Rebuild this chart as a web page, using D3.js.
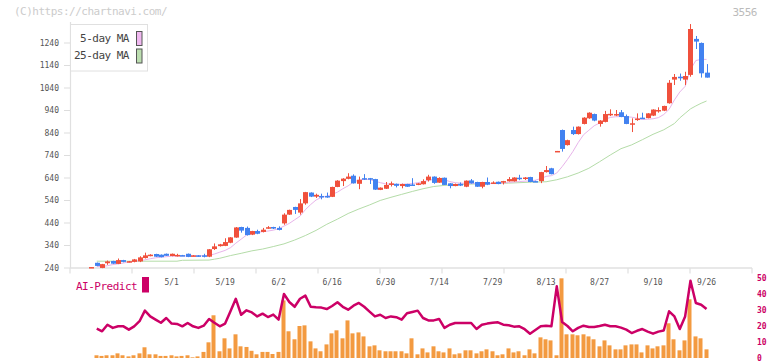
<!DOCTYPE html>
<html>
<head>
<meta charset="utf-8">
<script src="https://cdn.jsdelivr.net/npm/d3@7"></script>
<style>
  html, body { margin: 0; padding: 0; background: #fff; }
  text { font-family: "DejaVu Sans Mono", "Liberation Mono", monospace; }
</style>
</head>
<body>
<svg id="chart"></svg>
<script>
// trading days shown on the chart
const dates = ["4/9","4/10","4/11","4/14","4/15","4/16","4/17","4/18","4/21","4/22","4/23","4/24","4/25","4/28","4/30",
  "5/1","5/2","5/7","5/8","5/9","5/12","5/13","5/14","5/15","5/16","5/19","5/20","5/21","5/22","5/23","5/26","5/27","5/28","5/29","5/30",
  "6/2","6/3","6/4","6/5","6/6","6/9","6/10","6/11","6/12","6/13","6/16","6/17","6/18","6/19","6/20","6/23","6/24","6/25","6/26","6/27","6/30",
  "7/1","7/2","7/3","7/4","7/7","7/8","7/9","7/10","7/11","7/14","7/15","7/16","7/17","7/18","7/22","7/23","7/24","7/25","7/28","7/29","7/30","7/31",
  "8/1","8/4","8/5","8/6","8/7","8/8","8/12","8/13","8/14","8/15","8/18","8/19","8/20","8/21","8/22","8/25","8/26","8/27","8/28","8/29",
  "9/1","9/2","9/3","9/4","9/5","9/8","9/9","9/10","9/11","9/12","9/16","9/17","9/18","9/19","9/22","9/24","9/25","9/26"];

const labelDates = ["5/1","5/19","6/2","6/16","6/30","7/14","7/29","8/13","8/27","9/10","9/26"];
const priceTicks = [240,340,440,540,640,740,840,940,1040,1140,1240];
const subTicks = [0,10,20,30,40,50];

const opens = [240,261,238,259,269,256,273,265,265,267, 282,292,300,297,301,291,294,295,301,291,
  294,294,288,322,335,336,350,373,420,416, 386,402,398,417,420,416,436,475,509,484,
  525,573,555,558,558,554,598,624,634,648, 612,637,637,633,585,590,607,612,602,611,
  609,607,610,628,644,617,639,614,602,612, 599,627,620,599,620,617,621,623,623,623,
  639,638,642,624,624,664,681,755,851,784, 851,833,878,903,922,878,887,920,920,930,
  913,880,900,906,904,915,936,937,970,1075, 1088,1075,1096,1256,1238,1106];
const highs = [242,262,256,271,270,280,274,269,278,290, 306,299,301,298,302,302,301,296,302,295,
  295,301,322,347,345,370,375,420,421,422, 403,408,416,424,421,423,481,497,510,544,
  576,574,568,568,573,599,628,637,659,654, 644,655,638,634,596,620,622,613,613,612,
  637,615,632,652,645,641,640,615,613,618, 627,633,621,621,640,623,622,625,642,641,
  652,642,643,626,665,691,683,758,853,808, 866,867,908,930,924,895,936,943,940,940,
  920,903,925,928,926,943,952,959,1073,1100, 1102,1110,1322,1269,1240,1144];
const lows = [239,246,237,252,256,255,263,263,263,264, 280,290,287,285,291,290,289,291,286,290,
  287,285,286,318,333,335,348,372,395,382, 384,388,396,412,411,405,430,474,478,475,
  519,553,549,543,550,553,597,602,632,613, 588,629,611,585,584,589,600,596,592,598,
  604,606,609,622,612,616,606,592,601,602, 597,613,598,592,606,612,610,609,622,622,
  628,629,619,620,615,662,654,754,755,782, 829,831,876,901,890,866,885,913,913,908,
  877,842,892,900,903,913,928,935,968,1051, 1070,1051,1088,1211,1084,1084];
const closes = [242,247,255,267,257,273,265,268,276,285, 294,297,288,286,292,301,296,292,287,294,
  288,293,321,334,343,353,374,418,404,384, 402,390,408,419,413,407,475,496,496,525,
  575,555,563,555,551,598,626,635,644,614, 630,631,631,586,595,607,614,603,611,599,
  608,614,624,644,616,638,607,602,611,604, 626,614,599,620,608,618,611,624,633,640,
  636,640,620,622,664,673,655,758,767,806, 833,866,906,928,893,893,922,923,922,909,
  878,881,902,904,925,942,940,958,1061,1087, 1081,1091,1300,1244,1103,1084];

// moving averages (day index / value)
const ma5Idx = [1,2,3,4,5,6,7,8,9,10,11,12,13,14,15,17,19,21,22,23,24,25,26,27,28,29,30,31,32,33,34,35,36,37,38,39,40,
  41,42,43,44,45,46,47,48,49,50,51,52,53,54,55,56,57,58,59,60,61,62,63,64,65,66,67,68,69,70,72,74,76,78,80,82,83,84,85,86,
  87,88,89,90,91,92,93,94,95,96,97,98,99,100,101,102,103,104,105,106,107,108,109,110,111,112,113,114,115];
const ma5Val = [245,244,248,253,256,260,265,267,270,274,279,283,286,288,290,291,292,292,294,300,308,316,328,348,366,384,392,396,399,402,406,412,424,436,452,468,497,
  520,540,552,557,565,575,590,603,620,628,632,631,624,617,612,610,609,610,611,613,617,621,627,632,636,630,622,617,615,614,614,613,613,618,622,625,628,635,645,648,
  660,688,720,755,795,830,850,870,882,898,907,910,911,910,908,903,898,899,901,906,920,943,985,1020,1045,1120,1160,1165,1165];
const ma25Idx = [1,16,17,22,23,24,25,26,28,30,32,34,36,38,40,42,44,46,48,50,52,54,56,58,60,62,64,66,68,70,74,78,82,85,87,89,91,93,95,97,99,101,103,105,107,109,110,111,112,113,114,115];
const ma25Val = [268,268,272,273,277,281,287,293,303,314,322,333,345,362,382,405,432,455,480,500,518,538,552,565,578,590,600,605,607,610,613,615,619,621,630,643,660,681,710,740,768,785,808,832,852,880,905,925,945,958,970,980];

// lower panel: volume bars and AI-Predict line (0-50 scale)
const volume = [0, 1.7,1.3,1.7,1.7,2.9,1.7,1.0,1.7,2.9, 6.7,2.3,2.3,1.3,1.3,1.7,1.0,1.3,1.7,0.4,
  1.0,3.8,9.8,26.7,4.2,12.3,6.0,14.8,7.3,6.9, 4.5,2.3,3.8,3.8,2.5,3.8,36,16.7,11.7,20,
  20.4,10.4,6.0,4.2,8.5,15.4,17.3,12.3,23.5,15.4, 16.0,13.5,7.3,7.9,4.8,4.2,4.2,4.2,4.2,2.9,
  12.3,2.3,6.0,3.5,7.3,4.2,3.5,6.0,2.3,2.9, 4.8,4.8,2.9,4.2,5.4,4.2,1.7,2.3,6.0,3.5,
  4.2,1.7,5.4,2.9,12.9,11.7,11.0,1.7,49.8,14.8, 14.8,14.2,14.8,13.5,11.7,7.3,11.0,7.9,5.4,5.4,
  7.9,8.5,8.5,3.5,7.9,6.0,7.3,7.9,21.7,11.7, 4.8,11.0,36.7,13.5,12.3,5.4];
const aiPredict = [null, 18.3,16.7,20.8,18.8,19.8,19.8,17.7,19.8,23, 29.6,26,24,22,25,21.5,21.3,19.8,21.9,19.8,
  18.8,20.2,24.4,22,19.8,21.5,29.2,37,27,29.8, 28.5,26,27.7,25.6,27.1,24,40,35,32,37,
  39,32,31.7,31.5,30.6,32.5,34.8,32,30.2,32.7, 34.4,32,29,26,27,25,26,25.5,24,28,
  28.8,29.6,25,23.5,23.5,24.4,18.8,20.8,21.9,21.9, 21.9,21.9,18.1,20.8,21.5,22,22.3,20.8,20.5,19.6,
  19.8,18,15.2,17.5,19.8,20.2,19.8,44.8,22.5,20, 16.7,18.8,20.2,19.4,19.4,20,20.8,19.8,19.8,19,
  17.7,15.6,17,18.1,16.5,15.2,16.5,17.2,29.2,26, 18.1,26,48.3,34.4,33.3,30.6];

const width = 772, height = 361;
const upColor = "#f0503c", downColor = "#4282f0";
const aiColor = "#cc0066";

const svg = d3.select("#chart").attr("width", width).attr("height", height);

// scales
const x = d3.scaleLinear().domain([-4, 123.5]).range([70, 752]);
const y = d3.scaleLinear().domain([240, 1240]).range([267.5, 42.5]);
const ySub = d3.scaleLinear().domain([0, 50]).range([358, 278]);
const gridX = d3.scaleLinear().domain([0, 11]).range([70, 752]);

// watermark and code
svg.append("text").attr("x", 14).attr("y", 15).attr("font-size", 11).attr("letter-spacing", -0.5)
  .attr("fill", "#cccccc").text("(C)https://chartnavi.com/");
svg.append("text").attr("x", 757).attr("y", 16).attr("font-size", 11).attr("letter-spacing", -0.5)
  .attr("text-anchor", "end").attr("fill", "#bbbbbb").text("3556");

// left axis
const yAxis = svg.append("g")
  .attr("transform", "translate(70,0)")
  .call(d3.axisLeft(y).tickValues(priceTicks).tickFormat(d3.format("d"))
    .tickSize(6).tickPadding(5).tickSizeOuter(0));
yAxis.select(".domain").remove();
yAxis.selectAll(".tick line").attr("stroke", "#dddddd");
yAxis.selectAll(".tick text").attr("font-size", 8).attr("fill", "#555555")
  .style("font-family", "DejaVu Sans Mono");
svg.append("line").attr("x1", 70.5).attr("x2", 70.5).attr("y1", 22).attr("y2", 268)
  .attr("stroke", "#e0e0e0").attr("stroke-width", 1.2);

// bottom axis line and grid ticks
svg.append("line").attr("x1", 70).attr("x2", 752).attr("y1", 268).attr("y2", 268)
  .attr("stroke", "#e0e0e0").attr("stroke-width", 1.3);
svg.append("g").selectAll("line").data(d3.range(12)).join("line")
  .attr("x1", d => gridX(d)).attr("x2", d => gridX(d))
  .attr("y1", 268).attr("y2", 273.5)
  .attr("stroke", "#e0e0e0").attr("stroke-width", 1.2);

// date labels
svg.append("g").selectAll("text").data(labelDates).join("text")
  .attr("x", d => x(dates.indexOf(d)))
  .attr("y", 285)
  .attr("text-anchor", "middle")
  .attr("font-size", 8)
  .attr("fill", "#555555")
  .text(d => d);

// moving average lines
const maLine = d3.line().x(d => x(d[0])).y(d => y(d[1]));
svg.append("path")
  .attr("d", maLine(d3.zip(ma25Idx, ma25Val)))
  .attr("fill", "none").attr("stroke", "#b4dca8").attr("stroke-width", 1);
svg.append("path")
  .attr("d", maLine(d3.zip(ma5Idx, ma5Val)))
  .attr("fill", "none").attr("stroke", "#e8b4ea").attr("stroke-width", 1);

// candles
const candles = svg.append("g").selectAll("g").data(dates.map((d, i) => i)).join("g");
candles.append("line")
  .attr("x1", i => Math.round(x(i)) + 0.5).attr("x2", i => Math.round(x(i)) + 0.5)
  .attr("y1", i => y(highs[i])).attr("y2", i => y(lows[i]))
  .attr("stroke", i => closes[i] >= opens[i] ? upColor : downColor)
  .attr("stroke-width", 1);
candles.append("rect")
  .attr("x", i => Math.round(x(i)) - 2)
  .attr("width", 5)
  .attr("y", i => y(Math.max(opens[i], closes[i])))
  .attr("height", i => Math.max(1.5, Math.abs(y(opens[i]) - y(closes[i]))))
  .attr("fill", i => closes[i] >= opens[i] ? upColor : downColor);

// legend
const legend = svg.append("g");
legend.append("rect").attr("x", 70.5).attr("y", 24.5).attr("width", 77).attr("height", 46.5)
  .attr("fill", "#fff").attr("stroke", "#e0e0e0");
const legendItems = [["5-day MA", "#f0b8f0", 41.5], ["25-day MA", "#bcdeb0", 59]];
legendItems.forEach(([name, color, ty]) => {
  legend.append("text").attr("x", 129).attr("y", ty).attr("text-anchor", "end")
    .attr("font-size", 11).attr("letter-spacing", -0.5).attr("fill", "#444").text(name);
  legend.append("rect").attr("x", 136.5).attr("y", ty - 10).attr("width", 5.5).attr("height", 14)
    .attr("fill", color).attr("stroke", "#555").attr("stroke-width", 1);
});

// lower panel
svg.append("text").attr("x", 76).attr("y", 290).attr("font-size", 11).attr("letter-spacing", -0.5)
  .attr("fill", aiColor).text("AI-Predict");
svg.append("rect").attr("x", 142).attr("y", 277).attr("width", 7).attr("height", 15.5).attr("fill", aiColor);

svg.append("g").selectAll("rect").data(volume.map((v, i) => [i, v]).filter(d => d[1] > 0)).join("rect")
  .attr("x", d => Math.round(x(d[0])) - 2.5)
  .attr("width", 4)
  .attr("y", d => ySub(d[1]))
  .attr("height", d => ySub(0) - ySub(d[1]))
  .attr("fill", "#f39a40");

const aiLine = d3.line().defined(d => d[1] != null).x(d => x(d[0])).y(d => ySub(d[1]));
svg.append("path")
  .attr("d", aiLine(aiPredict.map((v, i) => [i, v])))
  .attr("fill", "none").attr("stroke", aiColor).attr("stroke-width", 2.5)
  .attr("stroke-linejoin", "round");

// right axis labels for the lower panel
svg.append("g").selectAll("text").data(subTicks).join("text")
  .attr("x", 757).attr("y", d => ySub(d) + 2.5)
  .attr("font-size", 8).attr("font-weight", "bold")
  .attr("fill", aiColor)
  .text(d => d);
</script>
</body>
</html>
